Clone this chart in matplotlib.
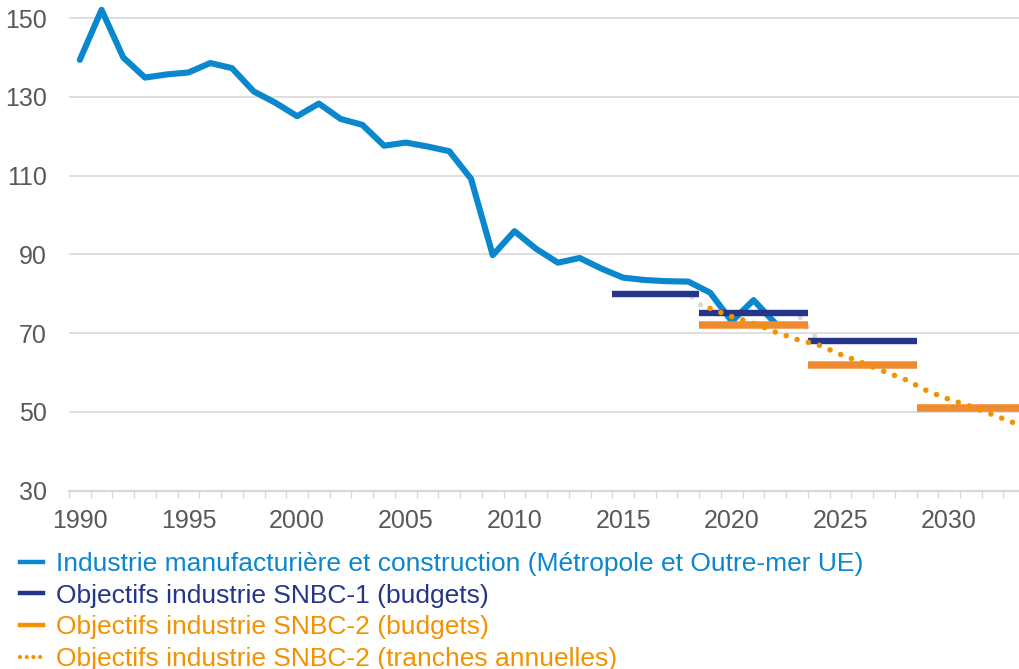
import numpy as np
import matplotlib.pyplot as plt

plt.rcParams['font.family'] = ['Liberation Sans', 'DejaVu Sans']

# emissions, industrie manufacturière et construction (Mt CO2e)
years = list(range(1990, 2023))
emissions = [139.4, 152.1, 140.0, 134.9, 135.7, 136.2, 138.6, 137.3, 131.4, 128.5,
             125.1, 128.3, 124.4, 122.9, 117.6, 118.4, 117.4, 116.2, 109.2, 89.8,
             95.9, 91.4, 87.9, 89.1, 86.4, 84.1, 83.5, 83.2, 83.1, 80.3,
             73.0, 78.4, 72.5]

# budgets carbone (périodes)
snbc1_start = [2015, 2019, 2024]
snbc1_end = [2018, 2023, 2028]
snbc1_values = [80, 75, 68]

snbc2_start = [2019, 2024, 2029]
snbc2_end = [2023, 2028, 2033]
snbc2_values = [72, 62, 51]

# tranches annuelles
snbc1_years = list(range(2015, 2029))
snbc1_annual = [80, 80, 80, 80, 75, 75, 75, 75, 75, 68, 68, 68, 68, 68]
snbc2_years = list(range(2019, 2034))
snbc2_annual = [76.3, 74.2, 72.5, 70.3, 68.4, 67.0, 64.6, 62.5, 60.3, 58.2,
                55.3, 53.2, 51.4, 49.3, 47.2]

labels = ['Industrie manufacturière et construction (Métropole et Outre-mer UE)',
          'Objectifs industrie SNBC-1 (budgets)',
          'Objectifs industrie SNBC-2 (budgets)',
          'Objectifs industrie SNBC-2 (tranches annuelles)']

blue = '#0a87cd'
navy = '#25358a'
orange_bar = '#ef8a30'
orange = '#f39200'
grid_col = '#d9d9d9'
txt_col = '#595959'

fig = plt.figure(figsize=(10.2, 6.69), dpi=100)
ax = fig.add_axes([0.0676, 0.2665, 0.9324, 0.7335])

ax.plot(years, emissions, color=blue, lw=4.4, solid_joinstyle='round',
        solid_capstyle='round', zorder=3)
ax.plot(snbc1_years, snbc1_annual, color=grid_col, lw=3.8, linestyle=(0, (0.01, 2.2)),
        dash_capstyle='round', zorder=2)
ax.hlines(snbc1_values, np.array(snbc1_start) - 0.5, np.array(snbc1_end) + 0.5,
          color=navy, lw=4.6, zorder=4)
ax.hlines(snbc2_values, np.array(snbc2_start) - 0.5, np.array(snbc2_end) + 0.5,
          color=orange_bar, lw=5.4, zorder=5)
ax.plot(snbc2_years, snbc2_annual, color=orange, lw=4.0, linestyle=(0, (0.01, 2.07)),
        dash_capstyle='round', zorder=6)

# legend handles
h_blue, = ax.plot([], [], color=blue, lw=3.2)
h_navy, = ax.plot([], [], color=navy, lw=3.2)
h_orange, = ax.plot([], [], color=orange, lw=3.2)
h_dot, = ax.plot([], [], color=orange, lw=3.0, linestyle=(0, (0.01, 1.6)),
                 dash_capstyle='round')

ax.set_xlim(1989.5, 2033.26)
ax.set_ylim(30, 154.6)
ax.set_yticks(range(30, 151, 20))
ax.set_xticks(range(1990, 2031, 5))
ax.set_xticks(np.arange(1989.5, 2033, 1), minor=True)

for s in ['top', 'right', 'left']:
    ax.spines[s].set_visible(False)
ax.spines['bottom'].set_color(grid_col)
ax.spines['bottom'].set_linewidth(1.6)

ax.grid(axis='y', color=grid_col, lw=1.2)
ax.set_axisbelow(True)
ax.tick_params(axis='x', which='major', length=0, pad=13, labelsize=18, labelcolor=txt_col)
ax.tick_params(axis='x', which='minor', length=5, width=1, color=grid_col)
ax.tick_params(axis='y', length=0, pad=16, labelsize=18, labelcolor=txt_col)

leg = fig.legend([h_blue, h_navy, h_orange, h_dot], labels,
                 loc='upper left', frameon=False,
                 fontsize=19, handlelength=0.85, handletextpad=0.5, labelspacing=0.29,
                 borderpad=0, borderaxespad=0,
                 labelcolor=[blue, navy, orange, orange])
leg.set_bbox_to_anchor((0.02, (669 - 552) / 669), transform=fig.transFigure)

fig.savefig('out.png', dpi=100)
